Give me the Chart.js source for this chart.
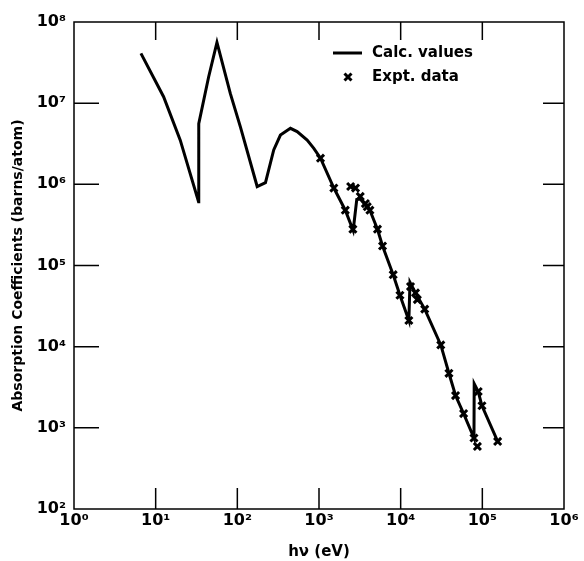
<!DOCTYPE html>
<html>
<head>
<meta charset="utf-8">
<script src="https://cdn.jsdelivr.net/npm/chart.js@4"></script>
<style>
  body { margin: 0; background: #fff; }
  canvas { display: block; }
</style>
</head>
<body>
<canvas id="absChart" width="584" height="561"></canvas>
<script>
// Calculated curve (photon energy in eV, coefficient in barns/atom)
const calcEnergy = [6.6, 12.5, 20, 33.5, 33.7, 44.5, 56.3, 82, 109, 175, 221, 279, 337, 447, 540, 716, 864, 1043,
    1520, 2100, 2620, 2900, 3200, 4200, 5200, 6000, 8100, 9800, 12600, 13000, 15200, 19700, 31000, 39000,
    47000, 59000, 79000, 79500, 89000, 99000, 154000];
const calcValues = [4.1e7, 1.2e7, 3.5e6, 6.1e5, 5.6e6, 2.1e7, 5.6e7, 1.32e7, 5.1e6, 9.4e5, 1.05e6, 2.65e6, 4.05e6, 4.9e6, 4.46e6, 3.5e6, 2.78e6, 2.1e6,
    9.0e5, 4.8e5, 2.7e5, 6.5e5, 6.6e5, 4.8e5, 2.8e5, 1.74e5, 7.7e4, 4.3e4, 2.1e4, 6.2e4, 4.6e4, 2.9e4, 1.05e4, 4.7e3,
    2.5e3, 1.5e3, 7.5e2, 3.5e3, 2.8e3, 1.87e3, 6.8e2];

// Experimental points
const exptEnergy = [1043, 1520, 2100, 2600, 2440, 2800, 3200, 3700, 3900, 4200, 5200, 6000, 8100, 9800, 12600,
    13200, 15200, 16000, 19700, 31000, 39000, 47000, 59000, 79000, 87000, 89000, 99000, 154000];
const exptValues = [2.1e6, 9.0e5, 4.8e5, 2.8e5, 9.4e5, 9.0e5, 7.1e5, 5.8e5, 5.3e5, 4.8e5, 2.8e5, 1.74e5, 7.7e4, 4.3e4, 2.1e4,
    5.5e4, 4.6e4, 3.8e4, 2.9e4, 1.05e4, 4.7e3, 2.5e3, 1.5e3, 7.5e2, 5.9e2, 2.8e3, 1.87e3, 6.8e2];

// Axis ticks
const xTickValues = [1, 10, 100, 1e3, 1e4, 1e5, 1e6];
const xTickLabels = ["10\u2070", "10\u00B9", "10\u00B2", "10\u00B3", "10\u2074", "10\u2075", "10\u2076"];
const yTickValues = [1e2, 1e3, 1e4, 1e5, 1e6, 1e7, 1e8];
const yTickLabels = ["10\u00B2", "10\u00B3", "10\u2074", "10\u2075", "10\u2076", "10\u2077", "10\u2078"];

const FONT = "'DejaVu Sans', sans-serif";

// frame, inward tick marks and the legend
const framePlugin = {
    id: "frame",
    afterDraw(chart) {
        const c = chart.ctx;
        const area = chart.chartArea;
        const xs = chart.scales.x;
        const ys = chart.scales.y;
        c.save();
        c.strokeStyle = "#000";
        c.lineWidth = 1.5;
        c.strokeRect(area.left, area.top, area.right - area.left, area.bottom - area.top);

        c.beginPath();
        xTickValues.slice(1, -1).forEach(v => {
            const px = xs.getPixelForValue(v);
            c.moveTo(px, area.top); c.lineTo(px, area.top + 18);
            c.moveTo(px, area.bottom); c.lineTo(px, area.bottom - 21);
        });
        yTickValues.slice(1, -1).forEach(v => {
            const py = ys.getPixelForValue(v);
            c.moveTo(area.left, py); c.lineTo(area.left + 25, py);
            c.moveTo(area.right, py); c.lineTo(area.right - 21, py);
        });
        c.stroke();

        // legend
        const lx = area.left + 259;
        const ly = area.top + 31;
        c.lineWidth = 3;
        c.beginPath();
        c.moveTo(lx, ly); c.lineTo(lx + 29, ly);
        c.stroke();
        const mx = lx + 15, my = ly + 24;
        c.lineWidth = 3;
        c.beginPath();
        c.moveTo(mx - 3.5, my - 3.5); c.lineTo(mx + 3.5, my + 3.5);
        c.moveTo(mx + 3.5, my - 3.5); c.lineTo(mx - 3.5, my + 3.5);
        c.stroke();
        c.fillStyle = "#000";
        c.font = "bold 15px " + FONT;
        c.textBaseline = "middle";
        c.fillText("Calc. values", lx + 39, ly);
        c.fillText("Expt. data", lx + 39, my);
        c.restore();
    }
};

const ctx = document.getElementById("absChart");
new Chart(ctx, {
    type: "scatter",
    data: {
        datasets: [{
            label: "Calc. values",
            data: calcEnergy.map((e, i) => ({ x: e, y: calcValues[i] })),
            showLine: true,
            borderColor: "#000",
            borderWidth: 3,
            pointRadius: 0,
            tension: 0
        }, {
            label: "Expt. data",
            data: exptEnergy.map((e, i) => ({ x: e, y: exptValues[i] })),
            showLine: false,
            pointStyle: "crossRot",
            pointRadius: 5,
            borderWidth: 3,
            borderColor: "#000",
            backgroundColor: "#000"
        }]
    },
    options: {
        responsive: false,
        animation: false,
        layout: { padding: { top: 22, right: 20, left: 0, bottom: 0 } },
        plugins: {
            legend: { display: false },
            tooltip: { enabled: false }
        },
        scales: {
            x: {
                type: "logarithmic",
                min: 1,
                max: 1e6,
                afterBuildTicks: s => { s.ticks = xTickValues.map(v => ({ value: v })); },
                afterFit: s => { s.height = 52; },
                grid: { display: false, drawTicks: false },
                border: { display: false },
                ticks: {
                    autoSkip: false,
                    maxRotation: 0,
                    padding: 2,
                    color: "#000",
                    font: { family: FONT, size: 16, weight: "bold" },
                    callback: (v, i) => xTickLabels[i]
                },
                title: {
                    display: true,
                    text: "h\u03BD (eV)",
                    color: "#000",
                    padding: { top: 0, bottom: 0 },
                    font: { family: FONT, size: 15, weight: "bold" }
                }
            },
            y: {
                type: "logarithmic",
                min: 1e2,
                max: 1e8,
                afterBuildTicks: s => { s.ticks = yTickValues.map(v => ({ value: v })); },
                afterFit: s => { s.width = 74; },
                grid: { display: false, drawTicks: false },
                border: { display: false },
                ticks: {
                    autoSkip: false,
                    padding: 8,
                    color: "#000",
                    font: { family: FONT, size: 16, weight: "bold" },
                    callback: (v, i) => yTickLabels[i]
                },
                title: {
                    display: true,
                    text: "Absorption Coefficients (barns/atom)",
                    color: "#000",
                    padding: { top: 10, bottom: 0 },
                    font: { family: FONT, size: 14, weight: "bold" }
                }
            }
        }
    },
    plugins: [framePlugin]
});
</script>
</body>
</html>
